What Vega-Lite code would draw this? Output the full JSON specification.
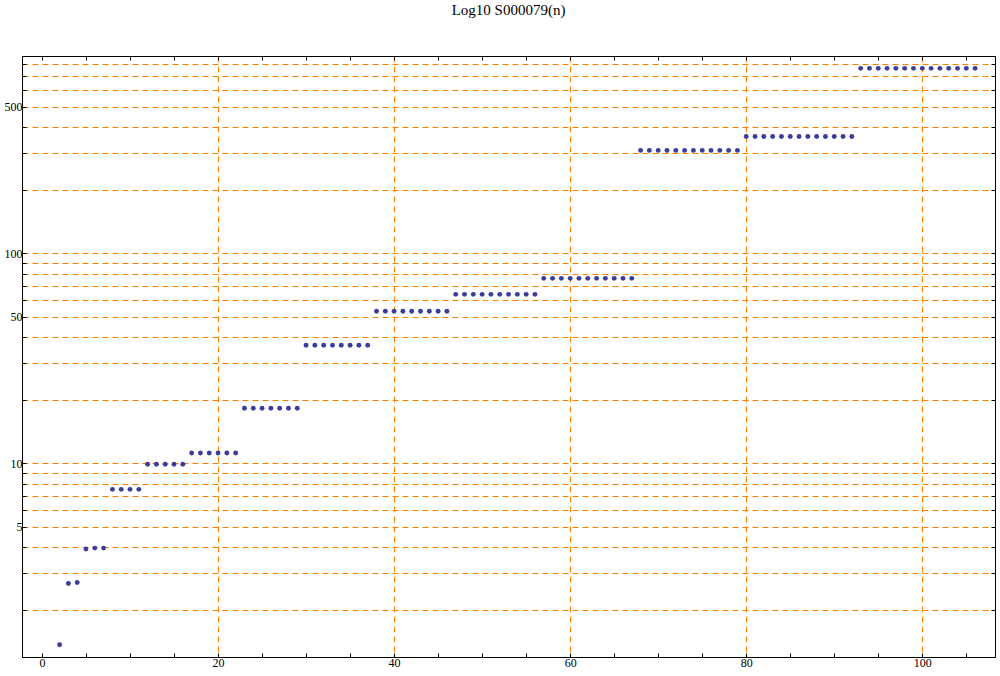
{
  "$schema": "https://vega.github.io/schema/vega-lite/v6.json",
  "width": 973,
  "height": 601,
  "autosize": "none",
  "padding": {"left": 22, "top": 56, "right": 5, "bottom": 19},
  "background": "white",
  "title": {"text": "Log10 S000079(n)", "font": "Liberation Serif", "fontSize": 15, "fontWeight": "normal", "color": "black", "anchor": "middle", "baseline": "alphabetic", "offset": 26},
  "config": {
    "view": {"stroke": "black", "strokeWidth": 1},
    "axis": {"labelFont": "Liberation Serif", "labelFontSize": 12, "labelColor": "black", "domainColor": "black", "tickColor": "black", "title": null, "labelFlush": false, "labelOverlap": false}
  },
  "data": {"values": [
    {"n": 2, "v": 1.37}, {"n": 3, "v": 2.68}, {"n": 4, "v": 2.71}, {"n": 5, "v": 3.91}, {"n": 6, "v": 3.95}, {"n": 7, "v": 3.95},
    {"n": 8, "v": 7.52}, {"n": 9, "v": 7.52}, {"n": 10, "v": 7.52}, {"n": 11, "v": 7.52},
    {"n": 12, "v": 9.9}, {"n": 13, "v": 9.9}, {"n": 14, "v": 9.9}, {"n": 15, "v": 9.9}, {"n": 16, "v": 9.9},
    {"n": 17, "v": 11.2}, {"n": 18, "v": 11.2}, {"n": 19, "v": 11.2}, {"n": 20, "v": 11.2}, {"n": 21, "v": 11.2}, {"n": 22, "v": 11.2},
    {"n": 23, "v": 18.3}, {"n": 24, "v": 18.3}, {"n": 25, "v": 18.3}, {"n": 26, "v": 18.3}, {"n": 27, "v": 18.3}, {"n": 28, "v": 18.3}, {"n": 29, "v": 18.3},
    {"n": 30, "v": 36.5}, {"n": 31, "v": 36.5}, {"n": 32, "v": 36.5}, {"n": 33, "v": 36.5}, {"n": 34, "v": 36.5}, {"n": 35, "v": 36.5}, {"n": 36, "v": 36.5}, {"n": 37, "v": 36.5},
    {"n": 38, "v": 53.0}, {"n": 39, "v": 53.0}, {"n": 40, "v": 53.0}, {"n": 41, "v": 53.0}, {"n": 42, "v": 53.0}, {"n": 43, "v": 53.0}, {"n": 44, "v": 53.0}, {"n": 45, "v": 53.0}, {"n": 46, "v": 53.0},
    {"n": 47, "v": 63.8}, {"n": 48, "v": 63.8}, {"n": 49, "v": 63.8}, {"n": 50, "v": 63.8}, {"n": 51, "v": 63.8}, {"n": 52, "v": 63.8}, {"n": 53, "v": 63.8}, {"n": 54, "v": 63.8}, {"n": 55, "v": 63.8}, {"n": 56, "v": 63.8},
    {"n": 57, "v": 76.0}, {"n": 58, "v": 76.0}, {"n": 59, "v": 76.0}, {"n": 60, "v": 76.0}, {"n": 61, "v": 76.0}, {"n": 62, "v": 76.0}, {"n": 63, "v": 76.0}, {"n": 64, "v": 76.0}, {"n": 65, "v": 76.0}, {"n": 66, "v": 76.0}, {"n": 67, "v": 76.0},
    {"n": 68, "v": 309}, {"n": 69, "v": 309}, {"n": 70, "v": 309}, {"n": 71, "v": 309}, {"n": 72, "v": 309}, {"n": 73, "v": 309}, {"n": 74, "v": 309}, {"n": 75, "v": 309}, {"n": 76, "v": 309}, {"n": 77, "v": 309}, {"n": 78, "v": 309}, {"n": 79, "v": 309},
    {"n": 80, "v": 360}, {"n": 81, "v": 360}, {"n": 82, "v": 360}, {"n": 83, "v": 360}, {"n": 84, "v": 360}, {"n": 85, "v": 360}, {"n": 86, "v": 360}, {"n": 87, "v": 360}, {"n": 88, "v": 360}, {"n": 89, "v": 360}, {"n": 90, "v": 360}, {"n": 91, "v": 360}, {"n": 92, "v": 360},
    {"n": 93, "v": 760}, {"n": 94, "v": 760}, {"n": 95, "v": 760}, {"n": 96, "v": 760}, {"n": 97, "v": 760}, {"n": 98, "v": 760}, {"n": 99, "v": 760}, {"n": 100, "v": 760}, {"n": 101, "v": 760}, {"n": 102, "v": 760}, {"n": 103, "v": 760}, {"n": 104, "v": 760}, {"n": 105, "v": 760}, {"n": 106, "v": 760}
  ]},
  "layer": [
    {
      "mark": {"type": "point", "filled": true, "color": "#3d3d99", "opacity": 1, "size": 24, "shape": "circle"},
      "encoding": {
        "x": {"field": "n", "type": "quantitative", "scale": {"domain": [-2.27, 108.26], "nice": false, "zero": false},
          "axis": {"orient": "bottom", "values": [0,5,10,15,20,25,30,35,40,45,50,55,60,65,70,75,80,85,90,95,100,105],
            "labelExpr": "datum.value % 20 == 0 ? datum.label : ''", "tickSize": -4, "labelPadding": 4,
            "grid": true, "gridColor": "#ff8000", "gridDash": [6, 4], "gridWidth": 1,
            "gridOpacity": {"condition": {"test": "datum.value % 20 == 0 && datum.value > 0", "value": 1}, "value": 0}}},
        "y": {"field": "v", "type": "quantitative", "scale": {"type": "log", "domain": [1.197, 870], "nice": false, "zero": false},
          "axis": {"orient": "left", "values": [2,3,4,5,6,7,8,9,10,20,30,40,50,60,70,80,90,100,200,300,400,500,600,700,800],
            "labelExpr": "indexof([5,10,50,100,500], datum.value) >= 0 ? datum.label : ''", "tickSize": -4, "labelPadding": 4,
            "grid": true, "gridColor": "#ff8000", "gridDash": [6, 4], "gridWidth": 1}}
      }
    },
    {
      "mark": {"type": "point", "filled": true, "opacity": 0, "size": 24},
      "encoding": {
        "x": {"field": "n", "type": "quantitative",
          "axis": {"orient": "top", "values": [0,5,10,15,20,25,30,35,40,45,50,55,60,65,70,75,80,85,90,95,100,105], "labels": false, "tickSize": -4, "grid": false}},
        "y": {"field": "v", "type": "quantitative",
          "axis": {"orient": "right", "values": [2,3,4,5,6,7,8,9,10,20,30,40,50,60,70,80,90,100,200,300,400,500,600,700,800], "labels": false, "tickSize": -4, "grid": false}}
      }
    }
  ],
  "resolve": {"axis": {"x": "independent", "y": "independent"}}
}
